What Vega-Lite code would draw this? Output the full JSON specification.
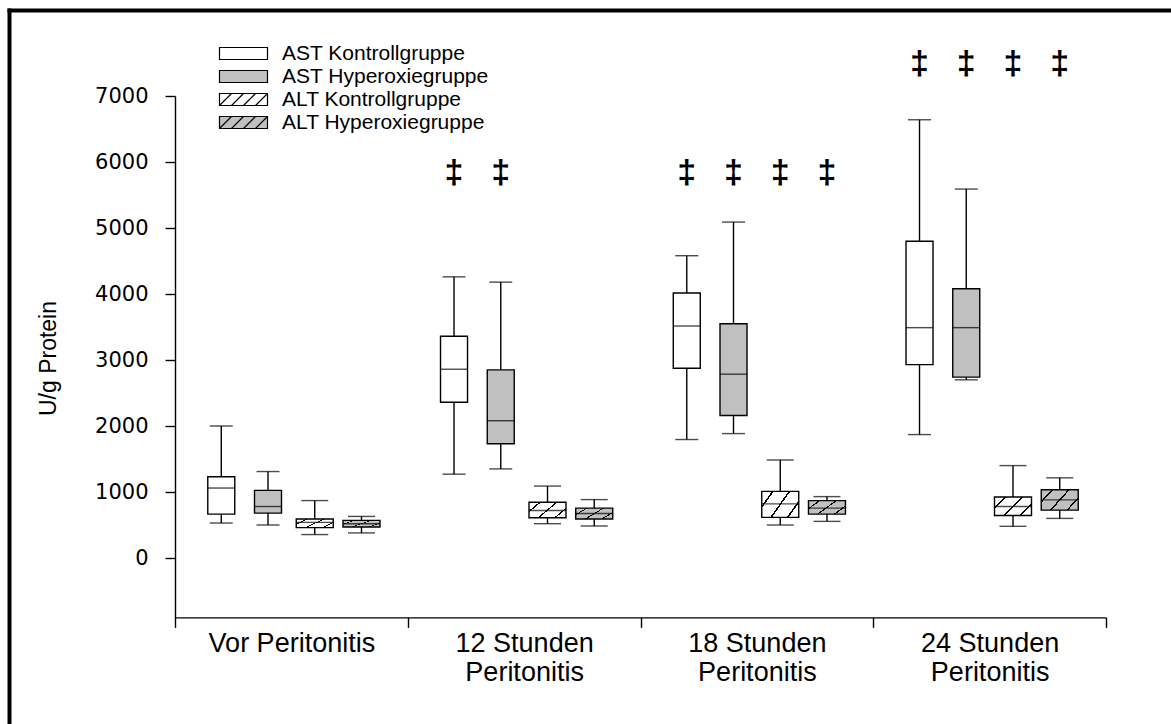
{
  "$schema": "https://vega.github.io/schema/vega-lite/v6.json",
  "width": 1162,
  "height": 714,
  "padding": {"left": 9, "top": 10, "right": 0, "bottom": 0},
  "autosize": {"type": "none"},
  "background": "white",
  "config": {
    "view": {"stroke": null},
    "axis": {"domainColor": "black", "tickColor": "black", "labelColor": "black", "titleColor": "black", "grid": false}
  },
  "datasets": {
    "boxes": [
      {"time": "Vor Peritonitis", "group": "AST Kontrollgruppe", "min": 530, "q1": 665, "median": 1060, "q3": 1230, "max": 2000},
      {"time": "Vor Peritonitis", "group": "AST Hyperoxiegruppe", "min": 500, "q1": 680, "median": 780, "q3": 1025, "max": 1310},
      {"time": "Vor Peritonitis", "group": "ALT Kontrollgruppe", "min": 355, "q1": 460, "median": 540, "q3": 590, "max": 870},
      {"time": "Vor Peritonitis", "group": "ALT Hyperoxiegruppe", "min": 380, "q1": 470, "median": 520, "q3": 570, "max": 630},
      {"time": "12 Stunden Peritonitis", "group": "AST Kontrollgruppe", "min": 1270, "q1": 2360, "median": 2860, "q3": 3360, "max": 4260},
      {"time": "12 Stunden Peritonitis", "group": "AST Hyperoxiegruppe", "min": 1350, "q1": 1730, "median": 2080, "q3": 2850, "max": 4180},
      {"time": "12 Stunden Peritonitis", "group": "ALT Kontrollgruppe", "min": 520, "q1": 610, "median": 720, "q3": 845, "max": 1090},
      {"time": "12 Stunden Peritonitis", "group": "ALT Hyperoxiegruppe", "min": 485, "q1": 590, "median": 675, "q3": 755, "max": 885},
      {"time": "18 Stunden Peritonitis", "group": "AST Kontrollgruppe", "min": 1795, "q1": 2875, "median": 3515, "q3": 4015, "max": 4580},
      {"time": "18 Stunden Peritonitis", "group": "AST Hyperoxiegruppe", "min": 1885, "q1": 2160, "median": 2785, "q3": 3550, "max": 5090},
      {"time": "18 Stunden Peritonitis", "group": "ALT Kontrollgruppe", "min": 500, "q1": 615, "median": 820, "q3": 1010, "max": 1485},
      {"time": "18 Stunden Peritonitis", "group": "ALT Hyperoxiegruppe", "min": 555, "q1": 665, "median": 755, "q3": 870, "max": 930},
      {"time": "24 Stunden Peritonitis", "group": "AST Kontrollgruppe", "min": 1870, "q1": 2930, "median": 3490, "q3": 4800, "max": 6640},
      {"time": "24 Stunden Peritonitis", "group": "AST Hyperoxiegruppe", "min": 2700, "q1": 2740, "median": 3490, "q3": 4080, "max": 5590},
      {"time": "24 Stunden Peritonitis", "group": "ALT Kontrollgruppe", "min": 480, "q1": 645, "median": 780, "q3": 925, "max": 1400},
      {"time": "24 Stunden Peritonitis", "group": "ALT Hyperoxiegruppe", "min": 600, "q1": 725, "median": 880, "q3": 1035, "max": 1215}
    ],
    "sig": [
      {"time": "12 Stunden Peritonitis", "group": "AST Kontrollgruppe", "level": 5840},
      {"time": "12 Stunden Peritonitis", "group": "AST Hyperoxiegruppe", "level": 5840},
      {"time": "18 Stunden Peritonitis", "group": "AST Kontrollgruppe", "level": 5840},
      {"time": "18 Stunden Peritonitis", "group": "AST Hyperoxiegruppe", "level": 5840},
      {"time": "18 Stunden Peritonitis", "group": "ALT Kontrollgruppe", "level": 5840},
      {"time": "18 Stunden Peritonitis", "group": "ALT Hyperoxiegruppe", "level": 5840},
      {"time": "24 Stunden Peritonitis", "group": "AST Kontrollgruppe", "level": 7480},
      {"time": "24 Stunden Peritonitis", "group": "AST Hyperoxiegruppe", "level": 7480},
      {"time": "24 Stunden Peritonitis", "group": "ALT Kontrollgruppe", "level": 7480},
      {"time": "24 Stunden Peritonitis", "group": "ALT Hyperoxiegruppe", "level": 7480}
    ],
    "frame": [{"f": 0}, {"f": 1}]
  },
  "layer": [
    {
      "data": {"name": "boxes"},
      "layer": [
        {
          "mark": {"type": "rule", "color": "black", "strokeWidth": 1.4},
          "encoding": {
            "x": {"field": "time", "type": "nominal",
              "scale": {"domain": ["Vor Peritonitis", "12 Stunden Peritonitis", "18 Stunden Peritonitis", "24 Stunden Peritonitis"], "range": [166, 1097], "paddingInner": 0, "paddingOuter": 0},
              "axis": {"orient": "bottom", "offset": -106.6, "title": null, "tickBand": "extent", "tickSize": 10, "tickWidth": 1.4, "domainWidth": 1.4,
                "labelFont": "Liberation Sans", "labelFontSize": 27, "labelPadding": 3, "labelLineHeight": 29, "labelAngle": 0, "labelLimit": 400,
                "labelExpr": "!isString(datum.value) ? '' : (datum.value === 'Vor Peritonitis' ? datum.value : [replace(datum.value, ' Peritonitis', ''), 'Peritonitis'])"}},
            "xOffset": {"field": "group", "type": "nominal", "scale": {"domain": ["AST Kontrollgruppe", "AST Hyperoxiegruppe", "ALT Kontrollgruppe", "ALT Hyperoxiegruppe"], "paddingInner": 0, "paddingOuter": 0.49}},
            "y": {"field": "min", "type": "quantitative",
              "scale": {"domain": [-900, 7000], "range": [607.4, 86], "nice": false, "zero": false},
              "axis": {"orient": "left", "offset": -166, "values": [0, 1000, 2000, 3000, 4000, 5000, 6000, 7000], "format": "d", "tickSize": 10, "tickWidth": 1.4, "domainWidth": 1.4,
                "labelFont": "DejaVu Sans", "labelFontSize": 21, "labelPadding": 17,
                "title": "U/g Protein", "titleFont": "Liberation Sans", "titleFontSize": 23, "titleFontWeight": "normal",
                "titleX": -127, "titleY": 348, "titleAngle": 270, "titleAlign": "center", "titleBaseline": "middle"}},
            "y2": {"field": "max"}
          }
        },
        {
          "mark": {"type": "tick", "color": "black", "thickness": 1.4},
          "encoding": {
            "x": {"field": "time", "type": "nominal"},
            "xOffset": {"field": "group", "type": "nominal"},
            "y": {"field": "min", "type": "quantitative"},
            "size": {"condition": {"test": "indexof(datum.group, 'AST') === 0", "value": 23}, "value": 27}
          }
        },
        {
          "mark": {"type": "tick", "color": "black", "thickness": 1.4},
          "encoding": {
            "x": {"field": "time", "type": "nominal"},
            "xOffset": {"field": "group", "type": "nominal"},
            "y": {"field": "max", "type": "quantitative"},
            "size": {"condition": {"test": "indexof(datum.group, 'AST') === 0", "value": 23}, "value": 27}
          }
        },
        {
          "transform": [{"filter": "indexof(datum.group, 'AST') === 0"}],
          "mark": {"type": "bar", "stroke": "black", "strokeWidth": 1.4},
          "encoding": {
            "x": {"field": "time", "type": "nominal"},
            "xOffset": {"field": "group", "type": "nominal"},
            "y": {"field": "q1", "type": "quantitative"},
            "y2": {"field": "q3"},
            "size": {"value": 27},
            "fill": {"condition": {"test": "datum.group === 'AST Kontrollgruppe'", "value": "white"}, "value": "#c0c0c0"}
          }
        },
        {
          "transform": [{"filter": "datum.group === 'ALT Kontrollgruppe'"}],
          "mark": {"type": "bar", "stroke": "black", "strokeWidth": 1.4,
            "fill": {"gradient": "linear", "x1": 0, "y1": 0, "x2": 1, "y2": 0.5, "stops": [
              {"offset": 0, "color": "white"}, {"offset": 0.22, "color": "white"}, {"offset": 0.22, "color": "black"}, {"offset": 0.26, "color": "black"}, {"offset": 0.26, "color": "white"},
              {"offset": 0.58, "color": "white"}, {"offset": 0.58, "color": "black"}, {"offset": 0.62, "color": "black"}, {"offset": 0.62, "color": "white"},
              {"offset": 0.94, "color": "white"}, {"offset": 0.94, "color": "black"}, {"offset": 0.98, "color": "black"}, {"offset": 0.98, "color": "white"}, {"offset": 1, "color": "white"}]}},
          "encoding": {
            "x": {"field": "time", "type": "nominal"},
            "xOffset": {"field": "group", "type": "nominal"},
            "y": {"field": "q1", "type": "quantitative"},
            "y2": {"field": "q3"},
            "size": {"value": 37}
          }
        },
        {
          "transform": [{"filter": "datum.group === 'ALT Hyperoxiegruppe'"}],
          "mark": {"type": "bar", "stroke": "black", "strokeWidth": 1.4,
            "fill": {"gradient": "linear", "x1": 0, "y1": 0, "x2": 1, "y2": 0.5, "stops": [
              {"offset": 0, "color": "#c0c0c0"}, {"offset": 0.22, "color": "#c0c0c0"}, {"offset": 0.22, "color": "black"}, {"offset": 0.26, "color": "black"}, {"offset": 0.26, "color": "#c0c0c0"},
              {"offset": 0.58, "color": "#c0c0c0"}, {"offset": 0.58, "color": "black"}, {"offset": 0.62, "color": "black"}, {"offset": 0.62, "color": "#c0c0c0"},
              {"offset": 0.94, "color": "#c0c0c0"}, {"offset": 0.94, "color": "black"}, {"offset": 0.98, "color": "black"}, {"offset": 0.98, "color": "#c0c0c0"}, {"offset": 1, "color": "#c0c0c0"}]}},
          "encoding": {
            "x": {"field": "time", "type": "nominal"},
            "xOffset": {"field": "group", "type": "nominal"},
            "y": {"field": "q1", "type": "quantitative"},
            "y2": {"field": "q3"},
            "size": {"value": 37}
          }
        },
        {
          "mark": {"type": "tick", "color": "black", "thickness": 1.4},
          "encoding": {
            "x": {"field": "time", "type": "nominal"},
            "xOffset": {"field": "group", "type": "nominal"},
            "y": {"field": "median", "type": "quantitative"},
            "size": {"condition": {"test": "indexof(datum.group, 'AST') === 0", "value": 27}, "value": 37}
          }
        },
        {
          "data": {"name": "sig"},
          "mark": {"type": "text", "text": "‡", "font": "Liberation Sans", "fontSize": 34, "fontWeight": "bold", "align": "center", "baseline": "middle", "color": "black"},
          "encoding": {
            "x": {"field": "time", "type": "nominal"},
            "xOffset": {"field": "group", "type": "nominal"},
            "y": {"field": "level", "type": "quantitative"}
          }
        },
        {
          "mark": {"type": "point", "filled": true, "opacity": 0},
          "encoding": {
            "x": {"field": "time", "type": "nominal"},
            "xOffset": {"field": "group", "type": "nominal"},
            "y": {"field": "median", "type": "quantitative"},
            "fill": {"field": "group", "type": "nominal",
              "scale": {"domain": ["AST Kontrollgruppe", "AST Hyperoxiegruppe", "ALT Kontrollgruppe", "ALT Hyperoxiegruppe"], "range": ["white", "#c0c0c0", "white", "#c0c0c0"]},
              "legend": {"orient": "none", "legendX": 224, "legendY": 33, "title": null, "symbolSize": 100, "symbolStrokeColor": "black", "symbolStrokeWidth": 1.2, "symbolOpacity": 1,
                "labelFont": "Liberation Sans", "labelFontSize": 21, "labelColor": "black", "labelOffset": 28, "rowPadding": 1, "padding": 0, "labelLimit": 400,
                "encode": {"symbols": {"update": {"stroke": {"value": "black"}, "strokeWidth": {"value": 1.2}, "opacity": {"value": 1}}}}}},
            "shape": {"field": "group", "type": "nominal",
              "scale": {"domain": ["AST Kontrollgruppe", "AST Hyperoxiegruppe", "ALT Kontrollgruppe", "ALT Hyperoxiegruppe"],
                "range": ["M-4.8,-1.2H4.8V1.2H-4.8Z", "M-4.8,-1.2H4.8V1.2H-4.8Z",
                  "M-4.8,-1.2H4.8V1.2H-4.8Z M-4.8,1.2L-2.4,-1.2 M-2.4,1.2L0,-1.2 M0,1.2L2.4,-1.2 M2.4,1.2L4.8,-1.2",
                  "M-4.8,-1.2H4.8V1.2H-4.8Z M-4.8,1.2L-2.4,-1.2 M-2.4,1.2L0,-1.2 M0,1.2L2.4,-1.2 M2.4,1.2L4.8,-1.2"]},
              "legend": {"orient": "none", "legendX": 224, "legendY": 33, "title": null, "symbolSize": 100, "symbolStrokeColor": "black", "symbolStrokeWidth": 1.2, "symbolOpacity": 1,
                "labelFont": "Liberation Sans", "labelFontSize": 21, "labelColor": "black", "labelOffset": 28, "rowPadding": 1, "padding": 0, "labelLimit": 400,
                "encode": {"symbols": {"update": {"stroke": {"value": "black"}, "strokeWidth": {"value": 1.2}, "opacity": {"value": 1}}}}}}
          }
        }
      ]
    },
    {
      "data": {"name": "frame"},
      "mark": {"type": "point", "opacity": 0},
      "encoding": {
        "x": {"field": "f", "type": "quantitative", "scale": {"domain": [0, 1], "nice": false},
          "axis": {"orient": "top", "offset": 0, "domainWidth": 4, "domainColor": "black", "domainCap": "square", "ticks": false, "labels": false, "title": null, "grid": false}},
        "y": {"field": "f", "type": "quantitative", "scale": {"domain": [0, 1], "nice": false},
          "axis": {"orient": "left", "offset": 0, "domainWidth": 4, "domainColor": "black", "domainCap": "square", "ticks": false, "labels": false, "title": null, "grid": false}}
      }
    }
  ],
  "resolve": {"scale": {"x": "independent", "y": "independent"}}
}
